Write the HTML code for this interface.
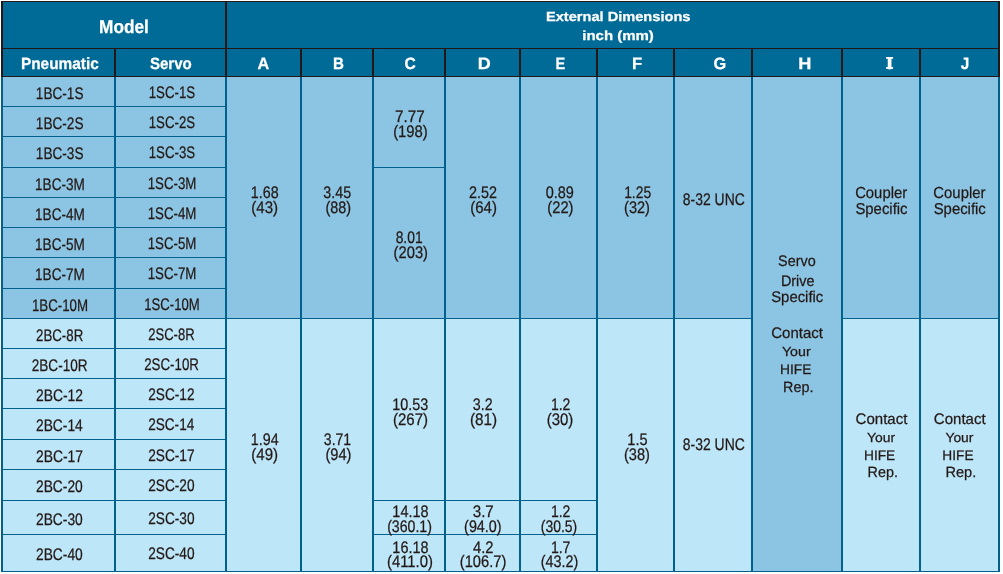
<!DOCTYPE html>
<html><head><meta charset="utf-8"><title>External Dimensions</title>
<style>
html,body{margin:0;padding:0;background:#fff;}
body{width:1003px;height:574px;position:relative;overflow:hidden;font-family:"Liberation Sans",sans-serif;}
#bg{position:absolute;left:0;top:0;width:1003px;height:574px;display:block}
.t{position:absolute;display:block;white-space:nowrap;line-height:24px;transform-origin:0 0;font-weight:400;text-rendering:geometricPrecision;-webkit-text-stroke:0.25px}
.b{font-weight:700}
#tx{position:absolute;left:0;top:0;width:1003px;height:574px;will-change:transform}
</style></head><body>
<svg id="bg" width="1003" height="574" viewBox="0 0 1003 574">
<rect x="1" y="1" width="999" height="76" fill="#006b96"/>
<rect x="1" y="77" width="999" height="241" fill="#8cc5e3"/>
<rect x="1" y="318" width="999" height="254" fill="#bde6f9"/>
<rect x="751" y="77" width="90" height="495" fill="#8cc5e3"/>
<rect x="1" y="106" width="224" height="1" fill="#00618d"/>
<rect x="1" y="136" width="224" height="1" fill="#00618d"/>
<rect x="1" y="167" width="224" height="1" fill="#00618d"/>
<rect x="372" y="167" width="72" height="1" fill="#00618d"/>
<rect x="1" y="197" width="224" height="1" fill="#00618d"/>
<rect x="1" y="227" width="224" height="1" fill="#00618d"/>
<rect x="1" y="257" width="224" height="1" fill="#00618d"/>
<rect x="1" y="288" width="224" height="1" fill="#00618d"/>
<rect x="1" y="318" width="750" height="1" fill="#00618d"/>
<rect x="841" y="318" width="159" height="1" fill="#00618d"/>
<rect x="1" y="348" width="224" height="1" fill="#00618d"/>
<rect x="1" y="378" width="224" height="1" fill="#00618d"/>
<rect x="1" y="408" width="224" height="1" fill="#00618d"/>
<rect x="1" y="439" width="224" height="1" fill="#00618d"/>
<rect x="1" y="469" width="224" height="1" fill="#00618d"/>
<rect x="1" y="500" width="224" height="1" fill="#00618d"/>
<rect x="372" y="500" width="224" height="1" fill="#00618d"/>
<rect x="1" y="534" width="224" height="1" fill="#00618d"/>
<rect x="372" y="534" width="224" height="1" fill="#00618d"/>
<rect x="1" y="571" width="999" height="1" fill="#00618d"/>
<rect x="1" y="77" width="2" height="495" fill="#00618d"/>
<rect x="114" y="77" width="2" height="495" fill="#00618d"/>
<rect x="225" y="77" width="2" height="495" fill="#00618d"/>
<rect x="300" y="77" width="2" height="495" fill="#00618d"/>
<rect x="372" y="77" width="2" height="495" fill="#00618d"/>
<rect x="444" y="77" width="2" height="495" fill="#00618d"/>
<rect x="519" y="77" width="2" height="495" fill="#00618d"/>
<rect x="596" y="77" width="2" height="495" fill="#00618d"/>
<rect x="673" y="77" width="2" height="495" fill="#00618d"/>
<rect x="751" y="77" width="2" height="495" fill="#00618d"/>
<rect x="841" y="77" width="2" height="495" fill="#00618d"/>
<rect x="919" y="77" width="2" height="495" fill="#00618d"/>
<rect x="998" y="77" width="2" height="495" fill="#00618d"/>
<rect x="1" y="1" width="2" height="76" fill="#231815"/>
<rect x="114" y="48" width="2" height="29" fill="#231815"/>
<rect x="225" y="1" width="2" height="76" fill="#231815"/>
<rect x="300" y="48" width="2" height="29" fill="#231815"/>
<rect x="372" y="48" width="2" height="29" fill="#231815"/>
<rect x="444" y="48" width="2" height="29" fill="#231815"/>
<rect x="519" y="48" width="2" height="29" fill="#231815"/>
<rect x="596" y="48" width="2" height="29" fill="#231815"/>
<rect x="673" y="48" width="2" height="29" fill="#231815"/>
<rect x="751" y="48" width="2" height="29" fill="#231815"/>
<rect x="841" y="48" width="2" height="29" fill="#231815"/>
<rect x="919" y="48" width="2" height="29" fill="#231815"/>
<rect x="998" y="1" width="2" height="76" fill="#231815"/>
<rect x="1" y="1" width="999" height="1" fill="#231815"/>
<rect x="1" y="48" width="999" height="1" fill="#231815"/>
<rect x="1" y="76" width="999" height="1" fill="#231815"/>
<rect x="886.1" y="57" width="7" height="1.8" fill="#ffffff"/>
<rect x="886.1" y="67" width="7" height="1.8" fill="#ffffff"/>
</svg>
<div id="tx">
<span class="t b" style="left:99px;top:15px;font-size:18.60px;transform:translateX(0.02px) scaleX(0.9290);color:#ffffff">Model</span>
<span class="t b" style="left:20px;top:52px;font-size:16.28px;transform:translateX(0.95px) scaleX(0.9452);color:#ffffff">Pneumatic</span>
<span class="t b" style="left:149px;top:52px;font-size:16.28px;transform:translateX(0.88px) scaleX(0.9280);color:#ffffff">Servo</span>
<span class="t b" style="left:545px;top:5px;font-size:13.23px;transform:translateX(0.93px) scaleX(1.1050);color:#ffffff">External Dimensions</span>
<span class="t b" style="left:582px;top:24px;font-size:13.23px;transform:translateX(0.23px) scaleX(1.1337);color:#ffffff">inch (mm)</span>
<span class="t b" style="left:257px;top:52px;font-size:16.42px;transform:translateX(0.48px) scaleX(0.9902);color:#ffffff">A</span>
<span class="t b" style="left:333px;top:52px;font-size:16.42px;transform:translateX(0.04px) scaleX(0.9219);color:#ffffff">B</span>
<span class="t b" style="left:404px;top:52px;font-size:16.42px;transform:translateX(0.48px) scaleX(0.9508);color:#ffffff">C</span>
<span class="t b" style="left:477px;top:52px;font-size:16.42px;transform:translateX(0.71px) scaleX(1.0966);color:#ffffff">D</span>
<span class="t b" style="left:555px;top:52px;font-size:16.42px;transform:translateX(0.53px) scaleX(0.8911);color:#ffffff">E</span>
<span class="t b" style="left:632px;top:52px;font-size:16.42px;transform:translateX(0.05px) scaleX(1.0174);color:#ffffff">F</span>
<span class="t b" style="left:713px;top:52px;font-size:16.42px;transform:translateX(0.58px) scaleX(0.9940);color:#ffffff">G</span>
<span class="t b" style="left:798px;top:52px;font-size:16.42px;transform:translateX(0.19px) scaleX(1.1053);color:#ffffff">H</span>
<span class="t b" style="left:886px;top:52px;font-size:16.42px;transform:translateX(0.57px) scaleX(1.3440);color:#ffffff">I</span>
<span class="t b" style="left:960px;top:52px;font-size:16.42px;transform:translateX(0.80px) scaleX(0.9317);color:#ffffff">J</span>
<span class="t" style="left:35px;top:82px;font-size:16.72px;transform:translateX(0.83px) scaleX(0.8147);color:#231815">1BC-1S</span>
<span class="t" style="left:148px;top:81px;font-size:16.72px;transform:translateX(0.69px) scaleX(0.7933);color:#231815">1SC-1S</span>
<span class="t" style="left:35px;top:112px;font-size:16.72px;transform:translateX(0.83px) scaleX(0.8147);color:#231815">1BC-2S</span>
<span class="t" style="left:148px;top:111px;font-size:16.72px;transform:translateX(0.69px) scaleX(0.7933);color:#231815">1SC-2S</span>
<span class="t" style="left:35px;top:142px;font-size:16.72px;transform:translateX(0.83px) scaleX(0.8147);color:#231815">1BC-3S</span>
<span class="t" style="left:148px;top:141px;font-size:16.72px;transform:translateX(0.69px) scaleX(0.7933);color:#231815">1SC-3S</span>
<span class="t" style="left:35px;top:173px;font-size:16.72px;transform:translateX(0.04px) scaleX(0.8126);color:#231815">1BC-3M</span>
<span class="t" style="left:147px;top:172px;font-size:16.72px;transform:translateX(0.69px) scaleX(0.7955);color:#231815">1SC-3M</span>
<span class="t" style="left:35px;top:203px;font-size:16.72px;transform:translateX(0.04px) scaleX(0.8126);color:#231815">1BC-4M</span>
<span class="t" style="left:147px;top:202px;font-size:16.72px;transform:translateX(0.69px) scaleX(0.7955);color:#231815">1SC-4M</span>
<span class="t" style="left:35px;top:233px;font-size:16.72px;transform:translateX(0.04px) scaleX(0.8126);color:#231815">1BC-5M</span>
<span class="t" style="left:147px;top:232px;font-size:16.72px;transform:translateX(0.69px) scaleX(0.7955);color:#231815">1SC-5M</span>
<span class="t" style="left:35px;top:263px;font-size:16.72px;transform:translateX(0.04px) scaleX(0.8126);color:#231815">1BC-7M</span>
<span class="t" style="left:147px;top:262px;font-size:16.72px;transform:translateX(0.69px) scaleX(0.7955);color:#231815">1SC-7M</span>
<span class="t" style="left:31px;top:294px;font-size:16.72px;transform:translateX(0.89px) scaleX(0.7965);color:#231815">1BC-10M</span>
<span class="t" style="left:144px;top:293px;font-size:16.72px;transform:translateX(0.31px) scaleX(0.7859);color:#231815">1SC-10M</span>
<span class="t" style="left:36px;top:324px;font-size:16.72px;transform:translateX(0.02px) scaleX(0.7944);color:#231815">2BC-8R</span>
<span class="t" style="left:148px;top:323px;font-size:16.72px;transform:translateX(0.27px) scaleX(0.7798);color:#231815">2SC-8R</span>
<span class="t" style="left:31px;top:354px;font-size:16.72px;transform:translateX(0.75px) scaleX(0.8128);color:#231815">2BC-10R</span>
<span class="t" style="left:144px;top:353px;font-size:16.72px;transform:translateX(0.21px) scaleX(0.7969);color:#231815">2SC-10R</span>
<span class="t" style="left:35px;top:384px;font-size:16.72px;transform:translateX(0.93px) scaleX(0.8308);color:#231815">2BC-12</span>
<span class="t" style="left:148px;top:383px;font-size:16.72px;transform:translateX(0.15px) scaleX(0.8193);color:#231815">2SC-12</span>
<span class="t" style="left:35px;top:414px;font-size:16.72px;transform:translateX(0.95px) scaleX(0.8269);color:#231815">2BC-14</span>
<span class="t" style="left:148px;top:413px;font-size:16.72px;transform:translateX(0.15px) scaleX(0.8143);color:#231815">2SC-14</span>
<span class="t" style="left:35px;top:445px;font-size:16.72px;transform:translateX(0.93px) scaleX(0.8316);color:#231815">2BC-17</span>
<span class="t" style="left:148px;top:444px;font-size:16.72px;transform:translateX(0.14px) scaleX(0.8200);color:#231815">2SC-17</span>
<span class="t" style="left:35px;top:475px;font-size:16.72px;transform:translateX(0.95px) scaleX(0.8265);color:#231815">2BC-20</span>
<span class="t" style="left:148px;top:474px;font-size:16.72px;transform:translateX(0.15px) scaleX(0.8187);color:#231815">2SC-20</span>
<span class="t" style="left:35px;top:508px;font-size:16.72px;transform:translateX(0.95px) scaleX(0.8265);color:#231815">2BC-30</span>
<span class="t" style="left:148px;top:507px;font-size:16.72px;transform:translateX(0.15px) scaleX(0.8187);color:#231815">2SC-30</span>
<span class="t" style="left:35px;top:543px;font-size:16.72px;transform:translateX(0.95px) scaleX(0.8265);color:#231815">2BC-40</span>
<span class="t" style="left:148px;top:542px;font-size:16.72px;transform:translateX(0.15px) scaleX(0.8187);color:#231815">2SC-40</span>
<span class="t" style="left:250px;top:181px;font-size:16.72px;transform:translateX(0.85px) scaleX(0.8544);color:#231815">1.68</span>
<span class="t" style="left:251px;top:196px;font-size:16.72px;transform:translateX(0.31px) scaleX(0.9006);color:#231815">(43)</span>
<span class="t" style="left:323px;top:181px;font-size:16.72px;transform:translateX(0.36px) scaleX(0.8533);color:#231815">3.45</span>
<span class="t" style="left:325px;top:196px;font-size:16.72px;transform:translateX(0.40px) scaleX(0.8644);color:#231815">(88)</span>
<span class="t" style="left:250px;top:428px;font-size:16.72px;transform:translateX(0.85px) scaleX(0.8554);color:#231815">1.94</span>
<span class="t" style="left:251px;top:443px;font-size:16.72px;transform:translateX(0.30px) scaleX(0.9012);color:#231815">(49)</span>
<span class="t" style="left:323px;top:428px;font-size:16.72px;transform:translateX(0.84px) scaleX(0.8406);color:#231815">3.71</span>
<span class="t" style="left:325px;top:443px;font-size:16.72px;transform:translateX(0.39px) scaleX(0.8749);color:#231815">(94)</span>
<span class="t" style="left:394px;top:105px;font-size:16.72px;transform:translateX(0.90px) scaleX(0.9143);color:#231815">7.77</span>
<span class="t" style="left:393px;top:120px;font-size:16.72px;transform:translateX(0.13px) scaleX(0.8888);color:#231815">(198)</span>
<span class="t" style="left:395px;top:226px;font-size:16.72px;transform:translateX(0.63px) scaleX(0.8292);color:#231815">8.01</span>
<span class="t" style="left:393px;top:241px;font-size:16.72px;transform:translateX(0.61px) scaleX(0.8823);color:#231815">(203)</span>
<span class="t" style="left:392px;top:393px;font-size:16.72px;transform:translateX(0.37px) scaleX(0.8608);color:#231815">10.53</span>
<span class="t" style="left:392px;top:408px;font-size:16.72px;transform:translateX(0.94px) scaleX(0.8983);color:#231815">(267)</span>
<span class="t" style="left:392px;top:500px;font-size:16.72px;transform:translateX(0.36px) scaleX(0.8650);color:#231815">14.18</span>
<span class="t" style="left:387px;top:515px;font-size:16.72px;transform:translateX(0.14px) scaleX(0.8463);color:#231815">(360.1)</span>
<span class="t" style="left:392px;top:536px;font-size:16.72px;transform:translateX(0.36px) scaleX(0.8650);color:#231815">16.18</span>
<span class="t" style="left:386px;top:550px;font-size:16.72px;transform:translateX(0.98px) scaleX(0.8896);color:#231815">(411.0)</span>
<span class="t" style="left:469px;top:181px;font-size:16.72px;transform:translateX(0.07px) scaleX(0.8616);color:#231815">2.52</span>
<span class="t" style="left:470px;top:196px;font-size:16.72px;transform:translateX(0.31px) scaleX(0.8941);color:#231815">(64)</span>
<span class="t" style="left:472px;top:393px;font-size:16.72px;transform:translateX(0.80px) scaleX(0.8520);color:#231815">3.2</span>
<span class="t" style="left:469px;top:408px;font-size:16.72px;transform:translateX(0.90px) scaleX(0.9158);color:#231815">(81)</span>
<span class="t" style="left:472px;top:500px;font-size:16.72px;transform:translateX(0.71px) scaleX(0.9070);color:#231815">3.7</span>
<span class="t" style="left:464px;top:515px;font-size:16.72px;transform:translateX(0.09px) scaleX(0.8603);color:#231815">(94.0)</span>
<span class="t" style="left:472px;top:536px;font-size:16.72px;transform:translateX(0.90px) scaleX(0.8860);color:#231815">4.2</span>
<span class="t" style="left:459px;top:550px;font-size:16.72px;transform:translateX(0.78px) scaleX(0.8787);color:#231815">(106.7)</span>
<span class="t" style="left:545px;top:181px;font-size:16.72px;transform:translateX(0.69px) scaleX(0.8665);color:#231815">0.89</span>
<span class="t" style="left:547px;top:196px;font-size:16.72px;transform:translateX(0.36px) scaleX(0.8806);color:#231815">(22)</span>
<span class="t" style="left:550px;top:393px;font-size:16.72px;transform:translateX(0.90px) scaleX(0.8406);color:#231815">1.2</span>
<span class="t" style="left:546px;top:408px;font-size:16.72px;transform:translateX(0.78px) scaleX(0.8934);color:#231815">(30)</span>
<span class="t" style="left:550px;top:500px;font-size:16.72px;transform:translateX(0.90px) scaleX(0.8406);color:#231815">1.2</span>
<span class="t" style="left:540px;top:515px;font-size:16.72px;transform:translateX(0.77px) scaleX(0.8354);color:#231815">(30.5)</span>
<span class="t" style="left:550px;top:536px;font-size:16.72px;transform:translateX(0.88px) scaleX(0.8427);color:#231815">1.7</span>
<span class="t" style="left:540px;top:550px;font-size:16.72px;transform:translateX(0.68px) scaleX(0.8596);color:#231815">(43.2)</span>
<span class="t" style="left:624px;top:181px;font-size:16.72px;transform:translateX(0.15px) scaleX(0.8303);color:#231815">1.25</span>
<span class="t" style="left:624px;top:196px;font-size:16.72px;transform:translateX(0.03px) scaleX(0.8722);color:#231815">(32)</span>
<span class="t" style="left:627px;top:428px;font-size:16.72px;transform:translateX(0.37px) scaleX(0.8688);color:#231815">1.5</span>
<span class="t" style="left:624px;top:443px;font-size:16.72px;transform:translateX(0.01px) scaleX(0.8730);color:#231815">(38)</span>
<span class="t" style="left:682px;top:188px;font-size:16.72px;transform:translateX(0.81px) scaleX(0.8346);color:#231815">8-32 UNC</span>
<span class="t" style="left:682px;top:433px;font-size:16.72px;transform:translateX(0.79px) scaleX(0.8352);color:#231815">8-32 UNC</span>
<span class="t" style="left:778px;top:250px;font-size:15.26px;transform:translateX(0.07px) scaleX(0.9434);color:#231815">Servo</span>
<span class="t" style="left:780px;top:270px;font-size:15.26px;transform:translateX(0.89px) scaleX(0.9456);color:#231815">Drive</span>
<span class="t" style="left:771px;top:286px;font-size:15.41px;transform:translateX(0.19px) scaleX(0.9656);color:#231815">Specific</span>
<span class="t" style="left:771px;top:322px;font-size:15.26px;transform:translateX(0.25px) scaleX(0.9844);color:#231815">Contact</span>
<span class="t" style="left:781px;top:340px;font-size:13.23px;transform:translateX(0.96px) scaleX(1.0739);color:#231815">Your</span>
<span class="t" style="left:779px;top:357px;font-size:13.81px;transform:translateX(0.97px) scaleX(0.9996);color:#231815">HIFE</span>
<span class="t" style="left:783px;top:376px;font-size:14.83px;transform:translateX(0.11px) scaleX(0.9674);color:#231815">Rep.</span>
<span class="t" style="left:855px;top:182px;font-size:15.99px;transform:translateX(0.13px) scaleX(0.9294);color:#231815">Coupler</span>
<span class="t" style="left:855px;top:198px;font-size:15.70px;transform:translateX(0.41px) scaleX(0.9492);color:#231815">Specific</span>
<span class="t" style="left:855px;top:408px;font-size:15.26px;transform:translateX(0.58px) scaleX(0.9867);color:#231815">Contact</span>
<span class="t" style="left:867px;top:426px;font-size:13.23px;transform:translateX(0.06px) scaleX(1.0517);color:#231815">Your</span>
<span class="t" style="left:863px;top:443px;font-size:13.81px;transform:translateX(0.98px) scaleX(0.9933);color:#231815">HIFE</span>
<span class="t" style="left:867px;top:461px;font-size:14.83px;transform:translateX(0.54px) scaleX(0.9682);color:#231815">Rep.</span>
<span class="t" style="left:933px;top:182px;font-size:15.99px;transform:translateX(0.34px) scaleX(0.9306);color:#231815">Coupler</span>
<span class="t" style="left:933px;top:198px;font-size:15.70px;transform:translateX(0.67px) scaleX(0.9488);color:#231815">Specific</span>
<span class="t" style="left:933px;top:408px;font-size:15.26px;transform:translateX(0.84px) scaleX(0.9852);color:#231815">Contact</span>
<span class="t" style="left:945px;top:426px;font-size:13.23px;transform:translateX(0.45px) scaleX(1.0440);color:#231815">Your</span>
<span class="t" style="left:942px;top:443px;font-size:13.81px;transform:translateX(0.34px) scaleX(0.9931);color:#231815">HIFE</span>
<span class="t" style="left:945px;top:461px;font-size:14.83px;transform:translateX(0.51px) scaleX(0.9817);color:#231815">Rep.</span>
</div>
</body></html>
